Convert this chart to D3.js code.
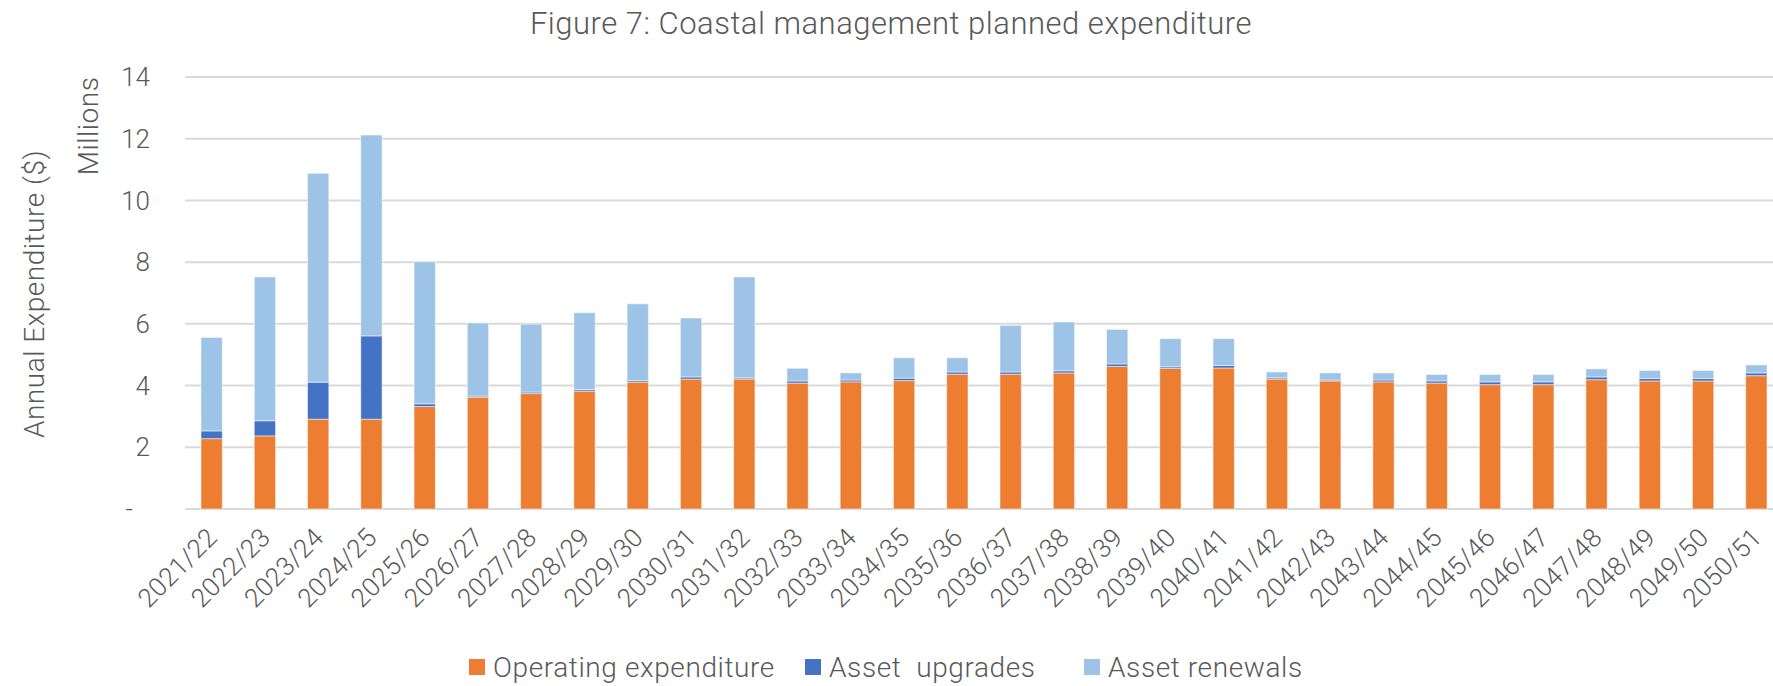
<!DOCTYPE html>
<html>
<head>
<meta charset="utf-8">
<script src="https://cdn.jsdelivr.net/npm/d3@7/dist/d3.min.js"></script>
<style>
  body { margin: 0; background: #fff; }
  svg text { font-family: Roboto, "Open Sans", sans-serif; font-weight: 300; fill: #595959; }
</style>
</head>
<body>
<div id="chart"></div>
<script>
const years = ['2021/22','2022/23','2023/24','2024/25','2025/26','2026/27','2027/28','2028/29','2029/30','2030/31',
  '2031/32','2032/33','2033/34','2034/35','2035/36','2036/37','2037/38','2038/39','2039/40','2040/41',
  '2041/42','2042/43','2043/44','2044/45','2045/46','2046/47','2047/48','2048/49','2049/50','2050/51'];

// values in $ millions
const operating = [2.28, 2.37, 2.91, 2.91, 3.32, 3.62, 3.74, 3.82, 4.11, 4.21,
  4.21, 4.08, 4.12, 4.16, 4.37, 4.37, 4.41, 4.62, 4.56, 4.57,
  4.21, 4.15, 4.12, 4.08, 4.03, 4.03, 4.19, 4.15, 4.15, 4.32];
const upgrades = [0.25, 0.49, 1.20, 2.70, 0.09, 0.04, 0.05, 0.05, 0.05, 0.07,
  0.04, 0.07, 0.06, 0.08, 0.07, 0.07, 0.07, 0.08, 0.05, 0.08,
  0.04, 0.03, 0.06, 0.07, 0.09, 0.09, 0.09, 0.08, 0.08, 0.09];
const renewals = [3.03, 4.66, 6.77, 6.51, 4.60, 2.37, 2.20, 2.49, 2.49, 1.91,
  3.27, 0.41, 0.23, 0.66, 0.46, 1.51, 1.58, 1.12, 0.91, 0.87,
  0.19, 0.23, 0.23, 0.21, 0.24, 0.24, 0.26, 0.26, 0.26, 0.26];

const seriesNames = ['Operating expenditure', 'Asset  upgrades', 'Asset renewals'];
const seriesKeys = ['operating', 'upgrades', 'renewals'];
const colors = ['#ED7D31', '#4472C4', '#9DC3E6'];
const yTicks = [0, 2, 4, 6, 8, 10, 12, 14];

const width = 1773, height = 686;
const margin = { left: 185, right: -10, top: 77, bottom: 177 };

const rows = years.map((y, i) => ({ year: y, operating: operating[i], upgrades: upgrades[i], renewals: renewals[i] }));
const stacked = d3.stack().keys(seriesKeys)(rows);

const svg = d3.select('#chart').append('svg')
  .attr('width', width).attr('height', height);

const x = d3.scaleBand()
  .domain(years)
  .range([margin.left, width - margin.right])
  .paddingInner(0.6)
  .paddingOuter(0.3);

const y = d3.scaleLinear()
  .domain([0, 14])
  .range([height - margin.bottom, margin.top]);

// gridlines
svg.append('g')
  .selectAll('line')
  .data(yTicks)
  .join('line')
  .attr('x1', margin.left).attr('x2', width - margin.right)
  .attr('y1', d => y(d)).attr('y2', d => y(d))
  .attr('stroke', '#d9d9d9').attr('stroke-width', 2);

// y labels
svg.append('g')
  .selectAll('text')
  .data(yTicks)
  .join('text')
  .attr('x', d => d === 0 ? 133 : 150)
  .attr('y', d => y(d))
  .attr('dy', '0.35em')
  .attr('text-anchor', 'end')
  .style('font-size', '26px')
  .text(d => d === 0 ? '-' : d);

// bars
svg.append('g')
  .selectAll('g')
  .data(stacked)
  .join('g')
  .attr('fill', (d, i) => colors[i])
  .selectAll('rect')
  .data(d => d)
  .join('rect')
  .attr('x', d => x(d.data.year))
  .attr('width', x.bandwidth())
  .attr('y', d => y(d[1]))
  .attr('height', d => y(d[0]) - y(d[1]))
  .attr('stroke', 'rgba(255,255,255,0.5)')
  .attr('stroke-width', 1);

// x labels
svg.append('g')
  .selectAll('text')
  .data(years)
  .join('text')
  .attr('transform', d => `translate(${x(d) + x.bandwidth() / 2 + 7},${y(0) + 30}) rotate(-45)`)
  .attr('text-anchor', 'end')
  .style('font-size', '26px')
  .style('letter-spacing', '0.3px')
  .text(d => d);

// axis titles
svg.append('text')
  .attr('transform', 'translate(44,294) rotate(-90)')
  .attr('text-anchor', 'middle')
  .style('font-size', '28px')
  .style('letter-spacing', '0.5px')
  .text('Annual Expenditure ($)');

svg.append('text')
  .attr('transform', 'translate(98,126) rotate(-90)')
  .attr('text-anchor', 'middle')
  .style('font-size', '28px')
  .style('letter-spacing', '0.5px')
  .text('Millions');

// title
svg.append('text')
  .attr('x', 891).attr('y', 34)
  .attr('text-anchor', 'middle')
  .style('font-size', '31px')
  .style('letter-spacing', '0.5px')
  .text('Figure 7: Coastal management planned expenditure');

// legend
const legendX = [469, 805, 1084];
const legend = svg.append('g')
  .selectAll('g')
  .data(seriesNames)
  .join('g')
  .attr('transform', (d, i) => `translate(${legendX[i]},667)`);
legend.append('rect')
  .attr('x', 0).attr('y', -8).attr('width', 16).attr('height', 16)
  .attr('fill', (d, i) => colors[i]);
legend.append('text')
  .attr('x', 24).attr('y', 10)
  .attr('xml:space', 'preserve')
  .style('white-space', 'pre')
  .style('font-size', '28px')
  .style('letter-spacing', '0.6px')
  .text(d => d);
</script>
</body>
</html>
